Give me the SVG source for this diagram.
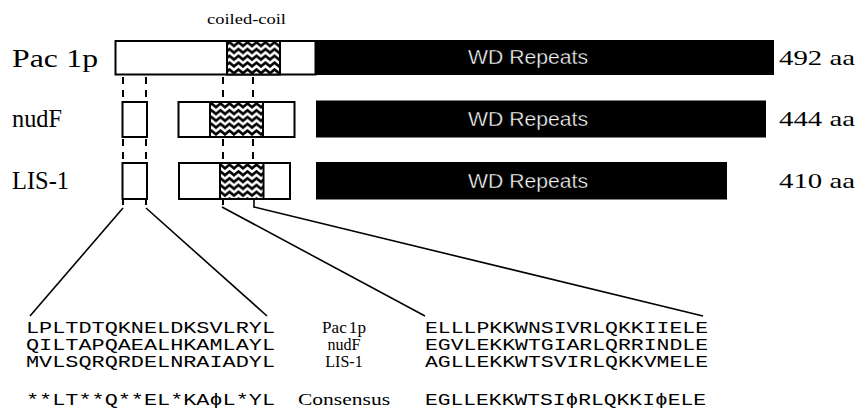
<svg xmlns="http://www.w3.org/2000/svg" width="864" height="419" viewBox="0 0 864 419">
  <defs>
    <!-- zig-zag fill used for the coiled-coil region -->
    <pattern id="zigzag" patternUnits="userSpaceOnUse" width="9" height="6.8">
      <rect width="9" height="6.8" fill="#fff"/>
      <path d="M-4.5,1.5 L0,5.2 L4.5,1.5 L9,5.2 L13.5,1.5" fill="none" stroke="#000" stroke-width="2.6" stroke-linejoin="miter"/>
    </pattern>
    <style>
      .box { fill: #fff; stroke: #000; stroke-width: 2; }
      .coil { fill: url(#zigzag); stroke: #000; stroke-width: 2; }
      .wd { fill: #000; }
      .wdtxt { font-family: "Liberation Sans", Arial, sans-serif; font-size: 20px; fill: #fff; stroke: #000; stroke-width: 0.4; text-anchor: middle; }
      .name { font-family: "Liberation Serif", "Times New Roman", serif; font-size: 26px; fill: #000; }
      .len { font-family: "Liberation Serif", "Times New Roman", serif; font-size: 22px; fill: #000; }
      .small { font-family: "Liberation Serif", "Times New Roman", serif; font-size: 15px; fill: #000; }
      .mid { font-family: "Liberation Serif", "Times New Roman", serif; font-size: 16px; fill: #000; text-anchor: middle; }
      .seq { font-family: "Liberation Mono", "DejaVu Sans Mono", "Courier New", monospace; font-size: 16px; fill: #000; }
      .dash { stroke: #000; stroke-width: 2; stroke-dasharray: 7 6; fill: none; }
      .tick { stroke: #000; stroke-width: 2; fill: none; }
      .proj { stroke: #000; stroke-width: 1.6; fill: none; }
    </style>
  </defs>

  <rect width="864" height="419" fill="#fff"/>

  <text class="small" x="207" y="24" textLength="79" lengthAdjust="spacingAndGlyphs">coiled-coil</text>

  <!-- Pac1p -->
  <g id="pac1p">
    <text class="name" x="12" y="67" font-size="27" textLength="86" lengthAdjust="spacingAndGlyphs">Pac<tspan dx="7">1p</tspan></text>
    <rect class="box" x="115.5" y="41" width="200" height="33.5"/>
    <rect class="coil" x="227" y="41" width="53" height="33.5"/>
    <rect class="wd" x="315" y="40" width="459" height="35"/>
    <text class="wdtxt" x="528" y="64" textLength="120" lengthAdjust="spacingAndGlyphs">WD Repeats</text>
    <text class="len" x="779" y="65" textLength="76" lengthAdjust="spacingAndGlyphs">492 aa</text>
  </g>

  <!-- nudF -->
  <g id="nudf">
    <text class="name" x="12" y="127" textLength="50" lengthAdjust="spacingAndGlyphs">nudF</text>
    <rect class="box" x="122.5" y="102" width="24.5" height="35"/>
    <rect class="box" x="178.5" y="102" width="116" height="35"/>
    <rect class="coil" x="210" y="102" width="53" height="35"/>
    <rect class="wd" x="316" y="100.5" width="450" height="37"/>
    <text class="wdtxt" x="528" y="126" textLength="120" lengthAdjust="spacingAndGlyphs">WD Repeats</text>
    <text class="len" x="779" y="126" textLength="76" lengthAdjust="spacingAndGlyphs">444 aa</text>
  </g>

  <!-- LIS-1 -->
  <g id="lis1">
    <text class="name" x="12" y="189" textLength="57" lengthAdjust="spacingAndGlyphs">LIS-1</text>
    <rect class="box" x="122.5" y="163" width="24.5" height="36"/>
    <rect class="box" x="179" y="163" width="111" height="36"/>
    <rect class="coil" x="220" y="163" width="43.5" height="36"/>
    <rect class="wd" x="316" y="162" width="411" height="37.5"/>
    <text class="wdtxt" x="528" y="188" textLength="120" lengthAdjust="spacingAndGlyphs">WD Repeats</text>
    <text class="len" x="779" y="188" textLength="76" lengthAdjust="spacingAndGlyphs">410 aa</text>
  </g>

  <!-- connectors -->
  <g id="connectors">
    <!-- dashed alignment guides between rows -->
    <line class="dash" x1="123" y1="77" x2="123" y2="101"/>
    <line class="dash" x1="146" y1="77" x2="146" y2="101"/>
    <line class="dash" x1="223" y1="77" x2="223" y2="101"/>
    <line class="dash" x1="253" y1="77" x2="253" y2="101"/>
    <line class="dash" x1="123" y1="139" x2="123" y2="162"/>
    <line class="dash" x1="146" y1="139" x2="146" y2="162"/>
    <line class="dash" x1="223" y1="139" x2="223" y2="162"/>
    <line class="dash" x1="253" y1="139" x2="253" y2="162"/>
    <!-- short ticks below LIS-1 -->
    <line class="tick" x1="123" y1="199" x2="123" y2="205"/>
    <line class="tick" x1="146" y1="199" x2="146" y2="205"/>
    <line class="tick" x1="223" y1="199" x2="223" y2="205"/>
    <!-- projections onto the sequence blocks -->
    <line class="proj" x1="123" y1="208" x2="30" y2="316"/>
    <line class="proj" x1="146" y1="208" x2="267" y2="316"/>
    <line class="proj" x1="222" y1="207" x2="425" y2="316"/>
    <polyline class="proj" points="254,199 254,207 703,316"/>
  </g>

  <!-- alignment of the two conserved segments -->
  <g id="alignment">
    <text class="seq" x="26" y="333" textLength="249" lengthAdjust="spacingAndGlyphs">LPLTDTQKNELDKSVLRYL</text>
    <text class="seq" x="26" y="350" textLength="249" lengthAdjust="spacingAndGlyphs">QILTAPQAEALHKAMLAYL</text>
    <text class="seq" x="26" y="367" textLength="249" lengthAdjust="spacingAndGlyphs">MVLSQRQRDELNRAIADYL</text>
    <text class="seq" x="26" y="405" textLength="249" lengthAdjust="spacingAndGlyphs">**LT**Q**EL*KAϕL*YL</text>

    <text class="mid" x="344" y="333" font-size="17" textLength="44" lengthAdjust="spacingAndGlyphs">Pac<tspan dx="2">1p</tspan></text>
    <text class="mid" x="344" y="350">nudF</text>
    <text class="mid" x="344" y="367">LIS-1</text>
    <text class="mid" x="344" y="405" font-size="20" textLength="92" lengthAdjust="spacingAndGlyphs">Consensus</text>

    <text class="seq" x="425" y="333" textLength="283" lengthAdjust="spacingAndGlyphs">ELLLPKKWNSIVRLQKKIIELE</text>
    <text class="seq" x="425" y="350" textLength="283" lengthAdjust="spacingAndGlyphs">EGVLEKKWTGIARLQRRINDLE</text>
    <text class="seq" x="425" y="367" textLength="283" lengthAdjust="spacingAndGlyphs">AGLLEKKWTSVIRLQKKVMELE</text>
    <text class="seq" x="425" y="405" textLength="281" lengthAdjust="spacingAndGlyphs">EGLLEKKWTSIϕRLQKKIϕELE</text>
  </g>
</svg>
